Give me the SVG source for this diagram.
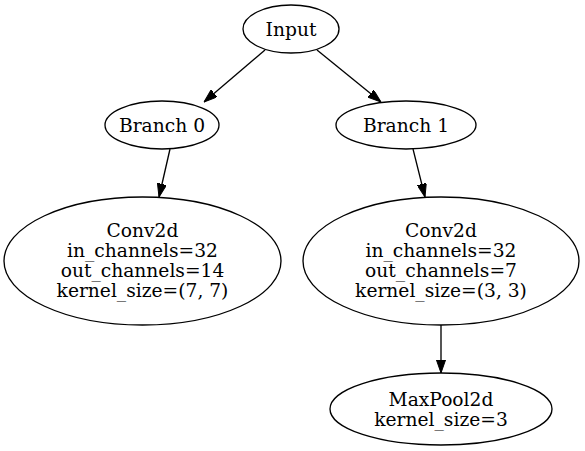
<svg xmlns="http://www.w3.org/2000/svg" width="585" height="451" viewBox="0 0 585 451">
<style>
  .node ellipse { fill: none; stroke: #000; stroke-width: 1.33; }
  .node text { font-family: "DejaVu Serif", serif; font-size: 18.67px; fill: #000; text-anchor: middle; dominant-baseline: central; }
  .edge { stroke: #000; stroke-width: 1.33; fill: none; marker-end: url(#arrow); }
</style>
<defs>
  <marker id="arrow" viewBox="0 0 13.33 9.33" refX="13.33" refY="4.67" markerWidth="13.33" markerHeight="9.33" markerUnits="userSpaceOnUse" orient="auto">
    <path d="M0,0 L13.33,4.67 L0,9.33 z" fill="#000" stroke="#000" stroke-width="1"/>
  </marker>
</defs>
<rect width="585" height="451" fill="#fff"/>
<g id="connectors">
  <line class="edge" x1="265" y1="50" x2="204" y2="102"/>
  <line class="edge" x1="317" y1="50" x2="381" y2="102"/>
  <line class="edge" x1="170" y1="149" x2="159" y2="197"/>
  <line class="edge" x1="413" y1="149" x2="425" y2="197"/>
  <line class="edge" x1="441" y1="325" x2="441" y2="373"/>
</g>
<g id="input" class="node">
  <ellipse cx="291" cy="29" rx="48" ry="24"/>
  <text x="291" y="29">Input</text>
</g>
<g id="branch0" class="node">
  <ellipse cx="162" cy="125" rx="57" ry="24"/>
  <text x="162" y="125">Branch 0</text>
</g>
<g id="branch1" class="node">
  <ellipse cx="406" cy="125" rx="70" ry="24"/>
  <text x="406" y="125">Branch 1</text>
</g>
<g id="conv_left" class="node">
  <ellipse cx="142.5" cy="261" rx="138.5" ry="64"/>
  <text x="142.5" y="230.5">Conv2d</text>
  <text x="142.5" y="250.5">in_channels=32</text>
  <text x="142.5" y="270.5">out_channels=14</text>
  <text x="142.5" y="290.5">kernel_size=(7, 7)</text>
</g>
<g id="conv_right" class="node">
  <ellipse cx="441" cy="261" rx="138" ry="64"/>
  <text x="441" y="230.5">Conv2d</text>
  <text x="441" y="250.5">in_channels=32</text>
  <text x="441" y="270.5">out_channels=7</text>
  <text x="441" y="290.5">kernel_size=(3, 3)</text>
</g>
<g id="maxpool" class="node">
  <ellipse cx="441" cy="409" rx="111" ry="36"/>
  <text x="441" y="399.5">MaxPool2d</text>
  <text x="441" y="419.5">kernel_size=3</text>
</g>
</svg>
